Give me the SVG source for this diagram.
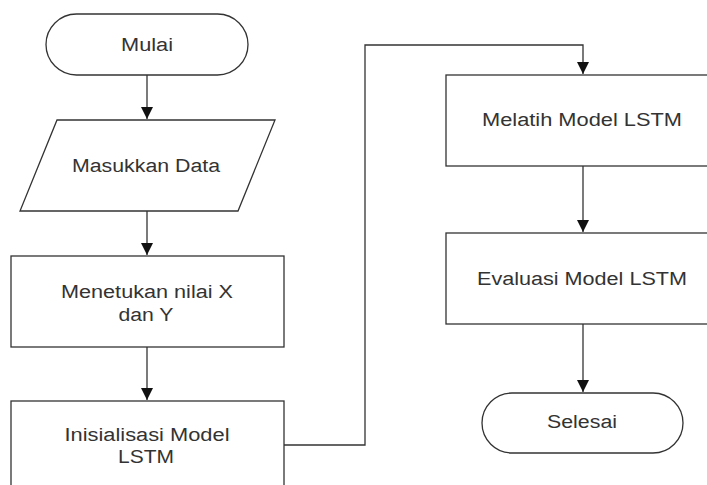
<svg xmlns="http://www.w3.org/2000/svg" width="707" height="485" viewBox="0 0 707 485">
<style>
.s{fill:#fff;stroke:#333;stroke-width:1.3}
.t{font-family:"Liberation Sans",Arial,sans-serif;font-size:18px;fill:#333;text-anchor:middle}
.c{fill:none;stroke:#333;stroke-width:1.3}
</style>
<defs>
<marker id="a" markerUnits="userSpaceOnUse" markerWidth="14" markerHeight="14" viewBox="0 0 14 14" refX="12" refY="7" orient="auto">
<path d="M0,1 L12,7 L0,13 Z" fill="#111"/>
</marker>
</defs>
<rect width="707" height="485" fill="#fff"/>
<g id="connectors">
<path class="c" d="M147,75 V119" marker-end="url(#a)"/>
<path class="c" d="M147,211 V255" marker-end="url(#a)"/>
<path class="c" d="M147,347 V400" marker-end="url(#a)"/>
<path class="c" d="M284,445 H365 V45 H583 V74" marker-end="url(#a)"/>
<path class="c" d="M583,166 V232" marker-end="url(#a)"/>
<path class="c" d="M583,324 V392" marker-end="url(#a)"/>
</g>
<g id="mulai">
<rect class="s" x="46" y="14" width="202" height="61" rx="30.5" ry="30.5"/>
<text class="t" x="147" y="51" textLength="52" lengthAdjust="spacingAndGlyphs">Mulai</text>
</g>
<g id="masukkan">
<polygon class="s" points="57,120 275,120 238,211 20,211"/>
<text class="t" x="146" y="172" textLength="148" lengthAdjust="spacingAndGlyphs">Masukkan Data</text>
</g>
<g id="menetukan">
<rect class="s" x="11" y="256" width="273" height="91"/>
<text class="t" x="147" y="298" textLength="172" lengthAdjust="spacingAndGlyphs">Menetukan nilai X</text>
<text class="t" x="146" y="321" textLength="55" lengthAdjust="spacingAndGlyphs">dan Y</text>
</g>
<g id="inisialisasi">
<rect class="s" x="11" y="401" width="273" height="91"/>
<text class="t" x="147" y="441" textLength="165" lengthAdjust="spacingAndGlyphs">Inisialisasi Model</text>
<text class="t" x="146" y="463" textLength="56" lengthAdjust="spacingAndGlyphs">LSTM</text>
</g>
<g id="melatih">
<rect class="s" x="446" y="75" width="274" height="91"/>
<text class="t" x="582" y="126" textLength="200" lengthAdjust="spacingAndGlyphs">Melatih Model LSTM</text>
</g>
<g id="evaluasi">
<rect class="s" x="446" y="233" width="274" height="91"/>
<text class="t" x="582" y="285" textLength="210" lengthAdjust="spacingAndGlyphs">Evaluasi Model LSTM</text>
</g>
<g id="selesai">
<rect class="s" x="482" y="393" width="201" height="60" rx="30" ry="30"/>
<text class="t" x="582" y="428" textLength="70" lengthAdjust="spacingAndGlyphs">Selesai</text>
</g>
</svg>
